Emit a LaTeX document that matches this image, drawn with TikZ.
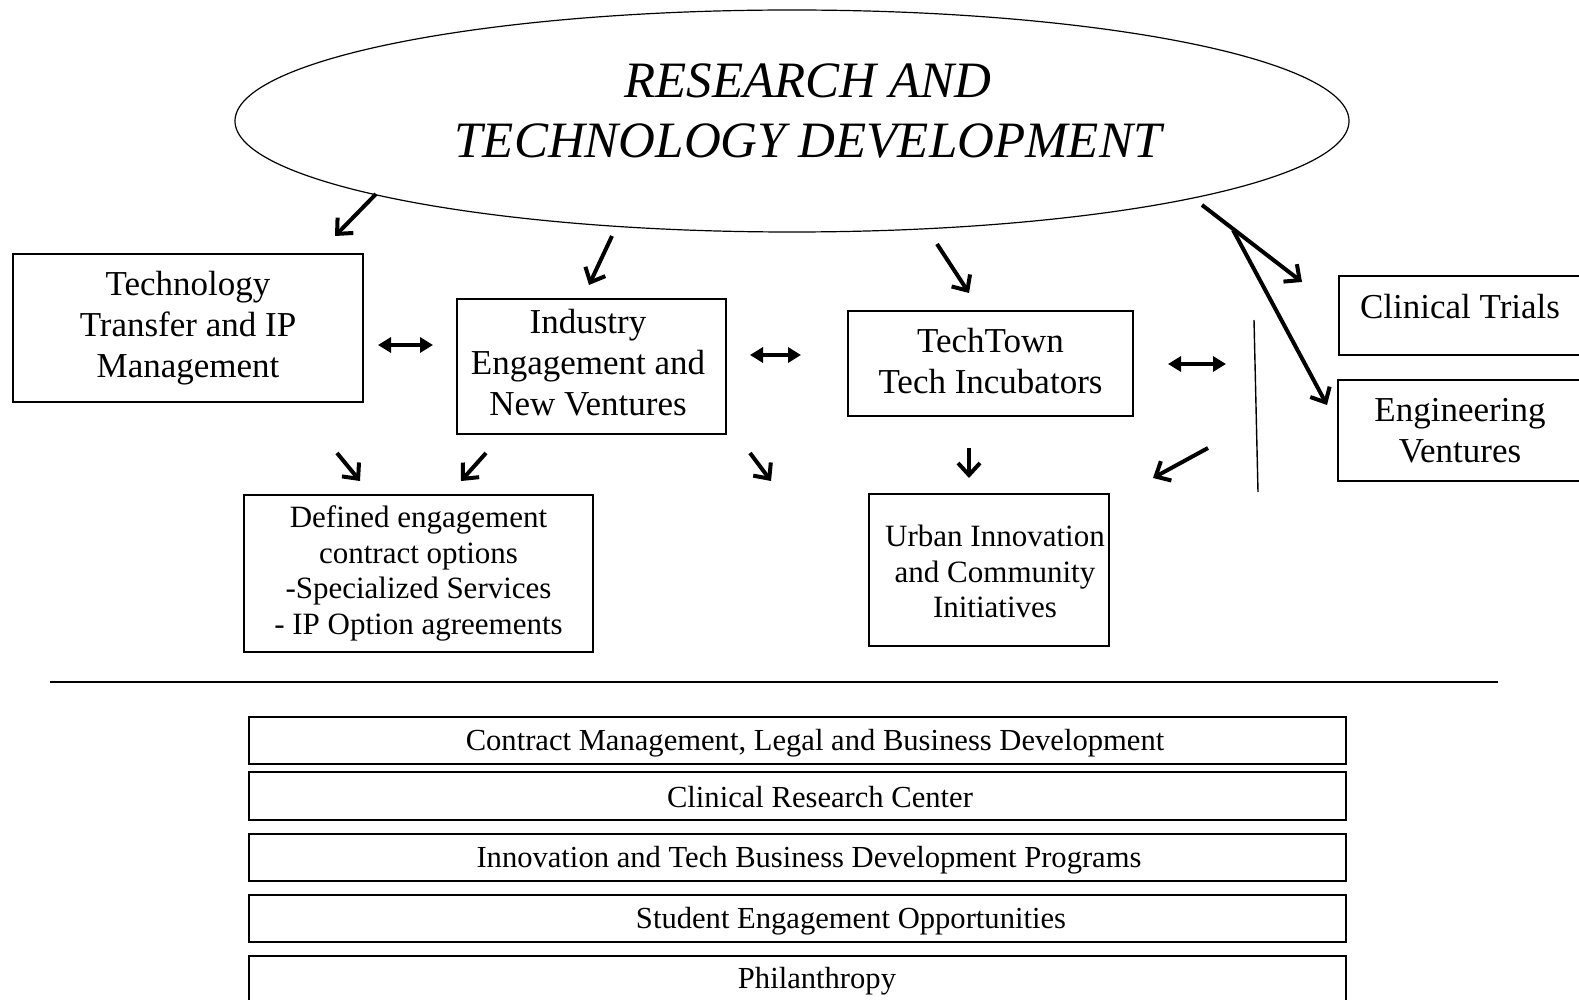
\documentclass[tikz,border=0pt]{standalone}
\usepackage{fontspec}
\setmainfont{Liberation Serif}
\usetikzlibrary{arrows.meta,shapes.geometric}
\begin{document}
\begin{tikzpicture}[x=0.5pt,y=-0.5pt,
  box/.style={draw, line width=0.8pt, inner sep=0pt, align=center},
  big/.style={font=\fontsize{17.5}{20.5}\selectfont},
  mid/.style={font=\fontsize{15.5}{17.8}\selectfont},
  small/.style={font=\fontsize{15.3}{17}\selectfont},
  arr/.style={line width=2pt, -{Straight Barb[length=6pt,width=11pt,line width=2pt]}},
  dbl/.style={line width=1.8pt, {Triangle[length=6.5pt,width=7.5pt]}-{Triangle[length=6.5pt,width=7.5pt]}}
]
\useasboundingbox (0,0) rectangle (1579,1000);

% ellipse
\node[ellipse, draw, line width=0.6pt, minimum width=557pt, minimum height=111pt, inner sep=0pt] (rtd) at (792,121) {};
\node[align=center, font=\fontsize{25.5}{30}\selectfont\itshape] (rtdt) at (808,111) {RESEARCH AND\\TECHNOLOGY DEVELOPMENT};

% top boxes
\node[box, big, minimum width=175pt, minimum height=74pt] (ttip) at (188,328) {Technology\\Transfer and IP\\Management};
\node[box, big, minimum width=134.5pt, minimum height=67.5pt] (ind) at (591.5,366.5) {};
\node[big, align=center] (indt) at (588,363) {Industry\\Engagement and\\New Ventures};
\node[box, big, minimum width=142.5pt, minimum height=52.5pt] (tt) at (990.5,363.5) {};
\node[big, align=center] (ttt) at (990.5,361) {TechTown\\Tech Incubators};
\node[box, minimum width=121pt, minimum height=39.5pt] (ct) at (1460,315.5) {};
\node[big] (ctt) at (1460,307) {Clinical Trials};
\node[box, big, minimum width=122pt, minimum height=50.5pt] (ev) at (1460,430.5) {Engineering\\Ventures};

% lower boxes
\node[box, mid, minimum width=174.5pt, minimum height=78.5pt] (def) at (418.5,573.5) {Defined engagement\\contract options\\-Specialized Services\\- IP Option agreements};
\node[box, minimum width=120pt, minimum height=76pt] (urb) at (989,570) {};
\node[mid, align=center] (urbt) at (995,571.5) {Urban Innovation\\and Community\\Initiatives};

% separator
\coordinate (sepL) at (50,682);
\coordinate (sepR) at (1498,682);
\draw[line width=1pt] (sepL) -- (sepR);

% vertical line
\coordinate (vT) at (1254,320);
\coordinate (vB) at (1258,492);
\draw[line width=0.7pt] (vT) -- (vB);

% bottom boxes
\node[box, minimum width=548.5pt, minimum height=23.5pt] (b1) at (797.5,740.5) {};
\node[small] (b1t) at (815,743) {Contract Management, Legal and Business Development};
\node[box, minimum width=548.5pt, minimum height=24pt] (b2) at (797.5,796) {};
\node[small] (b2t) at (820,797) {Clinical Research Center};
\node[box, minimum width=548.5pt, minimum height=23.5pt] (b3) at (797.5,857.5) {};
\node[small] (b3t) at (809,860.5) {Innovation and Tech Business Development Programs};
\node[box, minimum width=548.5pt, minimum height=23.5pt] (b4) at (797.5,918.5) {};
\node[small] (b4t) at (851,921.5) {Student Engagement Opportunities};
\node[box, minimum width=548.5pt, minimum height=30pt] (b5) at (797.5,986) {};
\node[small] (b5t) at (817,981) {Philanthropy};

% arrows from ellipse
\coordinate (a1s) at (376,194); \coordinate (a1e) at (335,236);
\coordinate (a2s) at (612,236); \coordinate (a2e) at (589,285);
\coordinate (a3s) at (937,244); \coordinate (a3e) at (969,293);
\coordinate (a4s) at (1202,205); \coordinate (a4k) at (1233,230);
\coordinate (a4e) at (1302,282); \coordinate (a5e) at (1327,405);
\draw[arr] (a1s) -- (a1e);
\draw[arr] (a2s) -- (a2e);
\draw[arr] (a3s) -- (a3e);
\draw[arr] (a4s) -- (a4e);
\draw[arr] (a4k) -- (a5e);

% double arrows
\coordinate (d1s) at (378,345); \coordinate (d1e) at (433,345);
\coordinate (d2s) at (750,355); \coordinate (d2e) at (801,355);
\coordinate (d3s) at (1168,364); \coordinate (d3e) at (1226,364);
\draw[dbl] (d1s) -- (d1e);
\draw[dbl] (d2s) -- (d2e);
\draw[dbl] (d3s) -- (d3e);

% lower arrows
\coordinate (l1s) at (337,453); \coordinate (l1e) at (360,481);
\coordinate (l2s) at (486,453); \coordinate (l2e) at (461,481);
\coordinate (l3s) at (750,453); \coordinate (l3e) at (771,481);
\coordinate (l4s) at (969,448); \coordinate (l4e) at (969,478);
\coordinate (l5s) at (1208,448); \coordinate (l5e) at (1153,478);
\draw[arr] (l1s) -- (l1e);
\draw[arr] (l2s) -- (l2e);
\draw[arr] (l3s) -- (l3e);
\draw[arr] (l4s) -- (l4e);
\draw[arr] (l5s) -- (l5e);
\end{tikzpicture}
\end{document}
